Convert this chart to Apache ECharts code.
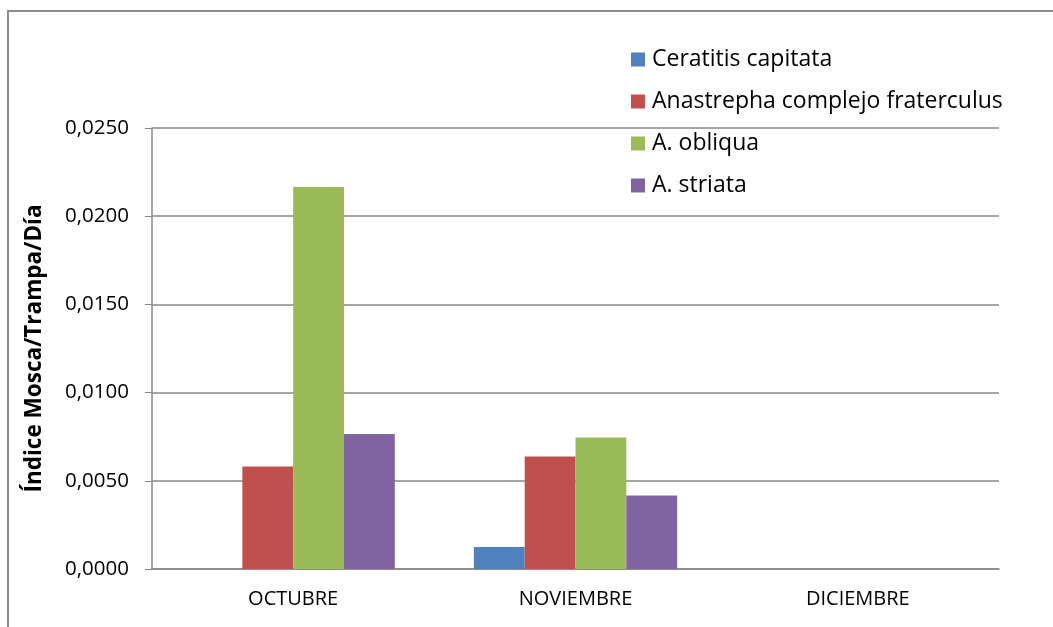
<!DOCTYPE html>
<html>
<head>
<meta charset="utf-8">
<title>Índice Mosca/Trampa/Día</title>
<script src="https://cdn.jsdelivr.net/npm/echarts@6/dist/echarts.min.js"></script>
<style>
html,body{margin:0;padding:0;background:#fff;}
#main{width:1053px;height:627px;}
</style>
</head>
<body>
<div id="main"></div>
<script>
// datos del grafico
var meses = ['OCTUBRE', 'NOVIEMBRE', 'DICIEMBRE'];
var especies = ['Ceratitis capitata', 'Anastrepha complejo fraterculus', 'A. obliqua', 'A. striata'];
var ceratitis = [0, 0.00125, 0];
var fraterculus = [0.00581, 0.00638, 0];
var obliqua = [0.02165, 0.00746, 0];
var striata = [0.00765, 0.00417, 0];
var colores = ['#4F81BD', '#C0504D', '#9BBB59', '#8064A2'];

var fuente = 'Open Sans';

var myChart = echarts.init(document.getElementById('main'));

var valores = [ceratitis, fraterculus, obliqua, striata];
var series = [];
for (var i = 0; i < especies.length; i++) {
    series.push({
        name: especies[i],
        type: 'bar',
        data: valores[i],
        barGap: '0%',
        barCategoryGap: '28%',
        itemStyle: { color: colores[i] }
    });
}

var option = {
    animation: false,
    color: colores,
    textStyle: { fontFamily: fuente },
    graphic: [{
        type: 'rect',
        shape: { x: 8, y: 11, width: 1100, height: 700 },
        style: { fill: 'none', stroke: '#8c8c8c', lineWidth: 2 },
        silent: true
    }],
    legend: {
        data: especies,
        orient: 'vertical',
        left: 631,
        top: 48,
        padding: 0,
        itemWidth: 14,
        itemHeight: 14,
        itemGap: 19,
        icon: 'rect',
        textStyle: { fontFamily: fuente, fontSize: 23, color: '#000', lineHeight: 20, padding: [0, 0, 0, 2] }
    },
    grid: {
        left: 152,
        right: 54,
        top: 128,
        bottom: 58
    },
    xAxis: {
        type: 'category',
        data: meses,
        axisLine: { lineStyle: { color: '#888', width: 1.5 } },
        axisTick: { show: false },
        axisLabel: { color: '#000', fontSize: 20, fontFamily: fuente, margin: 20 }
    },
    yAxis: {
        type: 'value',
        min: 0,
        max: 0.025,
        interval: 0.005,
        name: 'Índice Mosca/Trampa/Día',
        nameLocation: 'middle',
        nameGap: 106,
        nameTextStyle: { fontFamily: fuente, fontSize: 22.5, fontWeight: 'bold', color: '#000' },
        axisLine: { show: true, lineStyle: { color: '#888', width: 1.5 } },
        axisTick: { show: true, length: 7, lineStyle: { color: '#888' } },
        axisLabel: {
            color: '#000',
            fontSize: 20.5,
            fontFamily: fuente,
            margin: 23,
            formatter: function (v) { return v.toFixed(4).replace('.', ','); }
        },
        splitLine: { lineStyle: { color: '#888', width: 1.5 } }
    },
    series: series
};

myChart.setOption(option);
</script>
</body>
</html>
